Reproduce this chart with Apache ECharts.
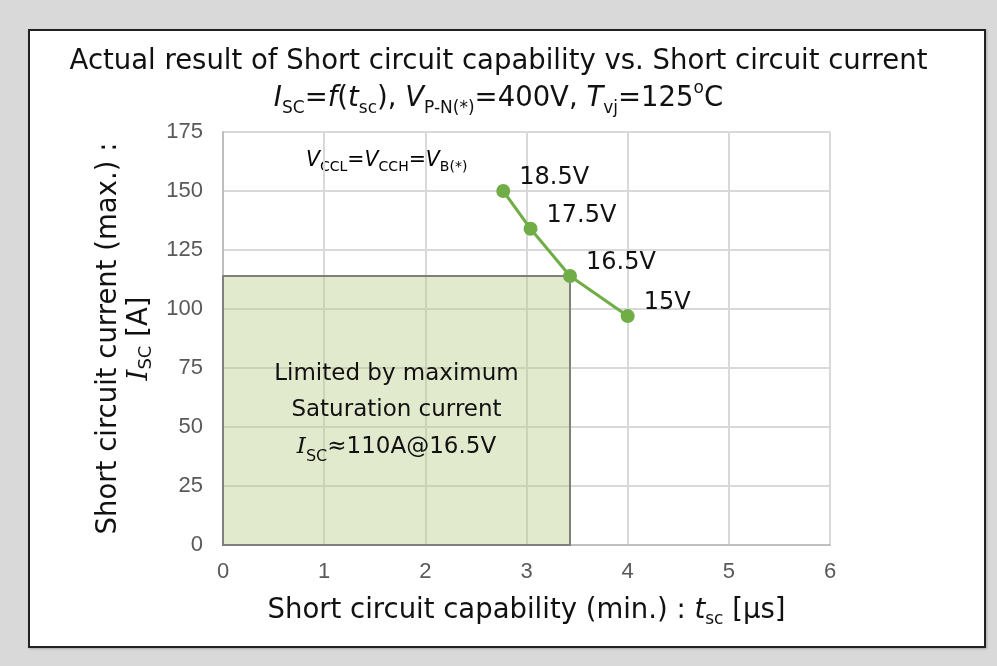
<!DOCTYPE html>
<html>
<head>
<meta charset="utf-8">
<script src="https://cdn.jsdelivr.net/npm/echarts@6/dist/echarts.min.js"></script>
<style>
    html, body { margin: 0; padding: 0; background: #d9d9d9; }
    .panel {
        position: absolute; left: 28px; top: 29px; width: 954px; height: 615px;
        background: #fff; border: 2px solid #222; box-shadow: 1px 1px 2px #aaa;
    }
    #chart { position: absolute; left: 0; top: 0; width: 997px; height: 666px; }
</style>
</head>
<body>
<div class="panel"></div>
<div id="chart"></div>
<script>
    // measured points (t_sc, I_SC) with gate voltage labels
    var tsc = [2.77, 3.04, 3.43, 4.0];
    var isc = [150, 134, 114, 97];
    var gateLabels = ['18.5V', '17.5V', '16.5V', '15V'];
    // saturation-current limited region
    var limitT = 3.43;
    var limitI = 114;

    var SANS = 'DejaVu Sans';
    var green = '#70ad47';

    // t = text, i = italic, si = serif italic, s = subscript, p = superscript
    function richSet(size, subSize, lh) {
        var base = { fontFamily: SANS, fontWeight: 'normal', fontSize: size, color: '#111', lineHeight: lh };
        return {
            t: base,
            i: Object.assign({}, base, { fontStyle: 'italic' }),
            si: Object.assign({}, base, { fontFamily: 'DejaVu Serif', fontStyle: 'italic' }),
            s: Object.assign({}, base, { fontSize: subSize, verticalAlign: 'bottom', lineHeight: lh - 5 }),
            p: Object.assign({}, base, { fontSize: subSize, verticalAlign: 'top', lineHeight: lh - 12 })
        };
    }

    var chart = echarts.init(document.getElementById('chart'));
    var option = {
        backgroundColor: 'transparent',
        animation: false,
        title: {
            left: 'center',
            top: 38,
            text: '{t|Actual result of Short circuit capability vs. Short circuit current}\n' +
                '{i|I}{s|SC}{t|=}{i|f}{t|(}{i|t}{s|sc}{t|), }{i|V}{s|P-N(*)}{t|=400V, }{i|T}{s|vj}{t|=125}{p|o}{t|C}',
            textStyle: { fontWeight: 'normal', rich: richSet(27.5, 17, 37) }
        },
        grid: { left: 223, right: 167, top: 132, bottom: 121 },
        xAxis: {
            type: 'value',
            min: 0, max: 6, interval: 1,
            name: '{t|Short circuit capability (min.) : }{i|t}{s|sc}{t| [μs]}',
            nameLocation: 'middle',
            nameGap: 49,
            nameTextStyle: { rich: richSet(27.5, 17, 34) },
            axisLine: { lineStyle: { color: '#bfbfbf', width: 2 } },
            axisTick: { show: false },
            axisLabel: { color: '#595959', fontSize: 22, fontFamily: 'Liberation Sans', margin: 16 },
            splitLine: { lineStyle: { color: '#d9d9d9', width: 2 } }
        },
        yAxis: {
            type: 'value',
            min: 0, max: 175, interval: 25,
            name: '{t|Short circuit current (max.) :}\n{si|I}{s|SC}{t| [A]}',
            nameLocation: 'middle',
            nameRotate: 90,
            nameGap: 68,
            nameTextStyle: { rich: richSet(27.5, 18, 31), align: 'center' },
            axisLine: { show: true, lineStyle: { color: '#bfbfbf', width: 2 } },
            axisTick: { show: false },
            axisLabel: { color: '#595959', fontSize: 22, fontFamily: 'Liberation Sans', margin: 20 },
            splitLine: { lineStyle: { color: '#d9d9d9', width: 2 } }
        },
        graphic: [{
            type: 'text',
            left: 306,
            top: 150,
            style: {
                text: '{i|V}{s|CCL}{t|=}{i|V}{s|CCH}{t|=}{i|V}{s|B(*)}',
                rich: richSet(20.5, 14, 28)
            }
        }],
        series: [{
            type: 'line',
            data: tsc.map(function (t, k) { return [t, isc[k]]; }),
            symbol: 'circle',
            symbolSize: 14,
            lineStyle: { color: green, width: 3 },
            itemStyle: { color: green },
            label: {
                show: true,
                position: 'right',
                distance: 9,
                offset: [0, -13],
                fontFamily: SANS,
                fontSize: 24,
                color: '#111',
                formatter: function (p) { return gateLabels[p.dataIndex]; }
            },
            markArea: {
                silent: true,
                itemStyle: { color: 'rgba(183,202,130,0.4)', borderColor: '#7f7f7f', borderWidth: 2 },
                label: {
                    show: true,
                    position: 'inside',
                    align: 'center',
                    formatter: '{t|Limited by maximum}\n{t|Saturation current}\n{si|I}{s|SC}{t|≈110A@16.5V}',
                    rich: richSet(23, 16, 36.5)
                },
                data: [[{ coord: [0, 0] }, { coord: [limitT, limitI] }]]
            }
        }]
    };
    chart.setOption(option);
</script>
</body>
</html>
